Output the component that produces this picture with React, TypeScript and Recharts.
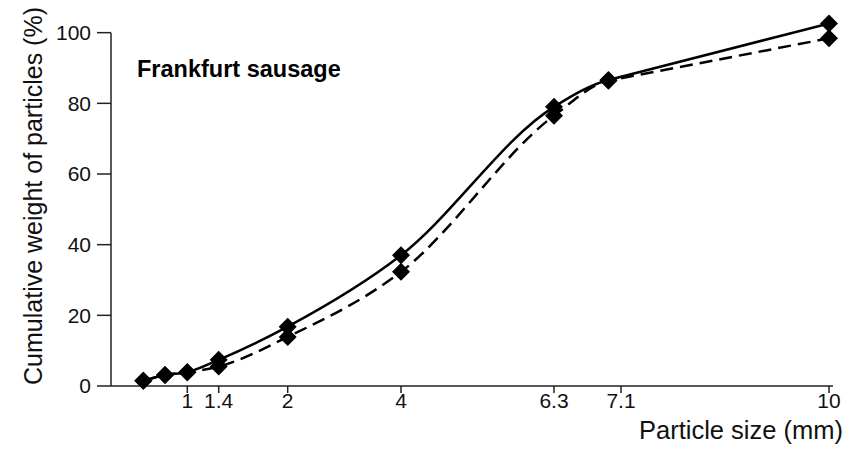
import React from 'react';
import { LineChart, Line, XAxis, YAxis, ReferenceLine } from 'recharts';

// Sieve sizes (mm)
const sizesMm = [0.5, 0.71, 1, 1.4, 2, 4, 6.3, 6.95, 10];
// Cumulative weight (%) – solid curve
const solidSeries = [1.5, 3.1, 3.9, 7.4, 16.8, 37, 79, 86.6, 102.6];
// Cumulative weight (%) – dashed curve
const dashedSeries = [1.5, 3.1, 3.9, 5.5, 13.9, 32.3, 76.5, 86.4, 98.4];

// X tick labels (mm)
const xTickValues = [1, 1.4, 2, 4, 6.3, 7.1, 10];
const yTicks = [0, 20, 40, 60, 80, 100];

// The original x axis is non-uniform: piecewise-linear warp anchored at sieve sizes
const warpMm = [0.5, 0.71, 1, 1.4, 2, 4, 6.3, 7.1, 10];
const warpUnits = [32.3, 54, 76.3, 107.7, 176.7, 290, 443, 510, 718];
const axisDomain: [number, number] = [0, 722];

function warp(v: number): number {
  for (let i = 0; i < warpMm.length - 1; i++) {
    if (v <= warpMm[i + 1] || i === warpMm.length - 2) {
      const t = (v - warpMm[i]) / (warpMm[i + 1] - warpMm[i]);
      return warpUnits[i] + t * (warpUnits[i + 1] - warpUnits[i]);
    }
  }
  return warpUnits[0];
}

const data = sizesMm.map((mm, i) => ({
  mm,
  pos: warp(mm),
  solid: solidSeries[i],
  dashed: dashedSeries[i],
}));

const tickPositions = xTickValues.map(warp);
const tickLabelFor = (p: number) => {
  const idx = tickPositions.findIndex((t) => Math.abs(t - p) < 1e-6);
  return idx >= 0 ? String(xTickValues[idx]) : '';
};

// Monotone cubic curve whose last segment is straight (as in the hand-drawn original)
const curveMonotoneStraightEnd = (context: any) => {
  let xs: number[] = [];
  let ys: number[] = [];
  return {
    areaStart() {},
    areaEnd() {},
    lineStart() {
      xs = [];
      ys = [];
    },
    point(x: number, y: number) {
      xs.push(+x);
      ys.push(+y);
    },
    lineEnd() {
      const n = xs.length;
      if (n === 0) return;
      context.moveTo(xs[0], ys[0]);
      if (n === 1) return;
      const d: number[] = [];
      for (let i = 0; i < n - 1; i++) d.push((ys[i + 1] - ys[i]) / (xs[i + 1] - xs[i]));
      const m: number[] = new Array(n).fill(0);
      m[0] = d[0];
      m[n - 1] = d[n - 2];
      for (let i = 1; i < n - 1; i++) {
        if (d[i - 1] * d[i] <= 0) {
          m[i] = 0;
        } else {
          const h0 = xs[i] - xs[i - 1];
          const h1 = xs[i + 1] - xs[i];
          const p = (d[i - 1] * h1 + d[i] * h0) / (h0 + h1);
          m[i] =
            (Math.sign(d[i - 1]) + Math.sign(d[i])) *
            Math.min(Math.abs(d[i - 1]), Math.abs(d[i]), 0.5 * Math.abs(p));
        }
      }
      if (n >= 3) {
        m[n - 2] = d[n - 2];
        m[n - 1] = d[n - 2];
      }
      for (let i = 0; i < n - 1; i++) {
        const dx = (xs[i + 1] - xs[i]) / 3;
        context.bezierCurveTo(
          xs[i] + dx,
          ys[i] + dx * m[i],
          xs[i + 1] - dx,
          ys[i + 1] - dx * m[i + 1],
          xs[i + 1],
          ys[i + 1]
        );
      }
    },
  };
};

const FONT = '"Liberation Sans", Arial, Helvetica, sans-serif';

const Diamond = (props: any) => {
  const { cx, cy, index } = props;
  if (cx == null || cy == null) return <g key={index} />;
  const s = 9;
  return (
    <polygon
      key={index}
      points={`${cx},${cy - s} ${cx + s},${cy} ${cx},${cy + s} ${cx - s},${cy}`}
      fill="#000"
      stroke="none"
    />
  );
};

export default function App() {
  return (
    <div style={{ position: 'absolute', left: 0, top: 0, width: 851, height: 452, background: '#fff' }}>
      <LineChart
        width={851}
        height={452}
        data={data}
        margin={{ top: 15, right: 18, bottom: 0, left: 0 }}
      >
        <XAxis
          dataKey="pos"
          type="number"
          domain={axisDomain}
          ticks={tickPositions}
          tickFormatter={tickLabelFor}
          interval={0}
          height={66}
          tickSize={7}
          tickMargin={0}
          axisLine={{ stroke: '#222', strokeWidth: 1.5 }}
          tickLine={{ stroke: '#222', strokeWidth: 1.5 }}
          tick={{ fill: '#111', fontSize: 21, fontFamily: FONT }}
          label={{
            content: (p: any) => {
              const vb = p.viewBox || { x: 111, y: 386, width: 722 };
              return (
                <text
                  x={vb.x + vb.width + 10}
                  y={vb.y + 53}
                  textAnchor="end"
                  fontSize={25.5}
                  fontFamily={FONT}
                  fill="#111"
                >
                  Particle size (mm)
                </text>
              );
            },
          }}
        />
        <YAxis
          type="number"
          domain={[0, 105]}
          ticks={yTicks}
          interval={0}
          width={111}
          tickSize={14}
          tickMargin={6}
          axisLine={false}
          tickLine={{ stroke: '#222', strokeWidth: 1.5 }}
          tick={{ fill: '#111', fontSize: 21, fontFamily: FONT }}
          label={{
            content: () => (
              <g>
                <text
                  x={42}
                  y={196}
                  transform="rotate(-90, 42, 196)"
                  textAnchor="middle"
                  fontSize={25}
                  fontFamily={FONT}
                  fill="#111"
                >
                  Cumulative weight of particles (%)
                </text>
                <text x={137} y={77} fontSize={23.5} fontWeight="bold" fontFamily={FONT} fill="#000">
                  Frankfurt sausage
                </text>
              </g>
            ),
          }}
        />
        <ReferenceLine
          segment={[
            { x: axisDomain[0], y: 0 },
            { x: axisDomain[0], y: 100 },
          ]}
          stroke="#222"
          strokeWidth={1.5}
          ifOverflow="visible"
        />
        <Line
          type={curveMonotoneStraightEnd as any}
          dataKey="solid"
          stroke="#000"
          strokeWidth={2.5}
          dot={Diamond}
          activeDot={false}
          isAnimationActive={false}
        />
        <Line
          type={curveMonotoneStraightEnd as any}
          dataKey="dashed"
          stroke="#000"
          strokeWidth={2.5}
          strokeDasharray="13 7"
          dot={Diamond}
          activeDot={false}
          isAnimationActive={false}
        />
      </LineChart>
    </div>
  );
}
